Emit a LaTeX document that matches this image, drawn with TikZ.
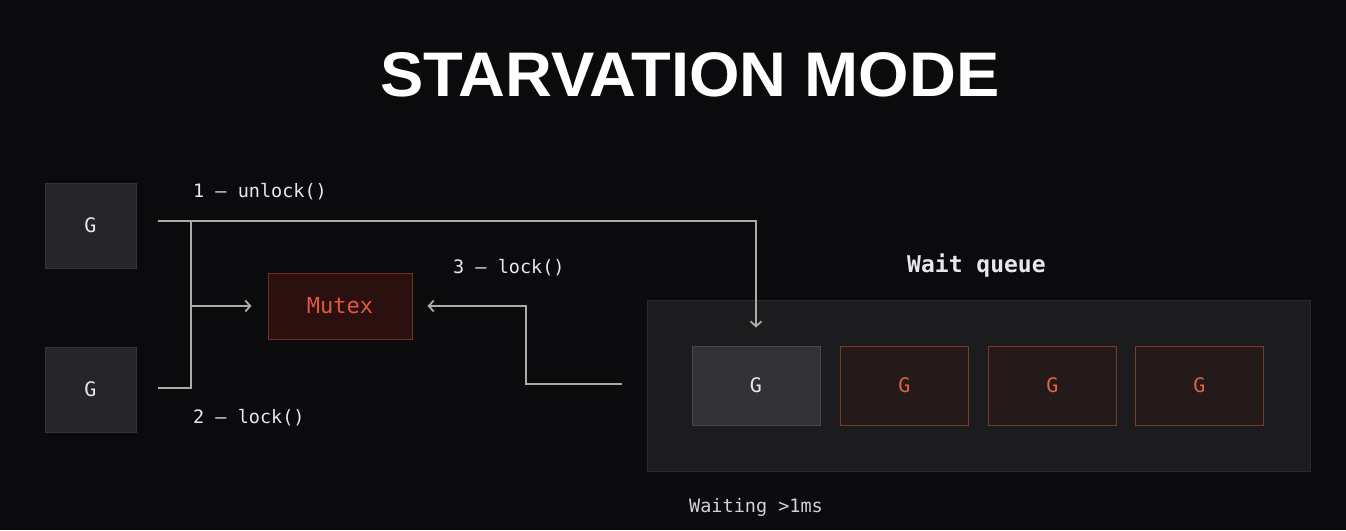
\documentclass[tikz,border=0pt]{standalone}
\usepackage{fontspec}
\setmainfont{Liberation Sans}
\newfontfamily\monof{DejaVu Sans Mono}
\usetikzlibrary{arrows.meta}
\definecolor{bg}{HTML}{0B0B0D}
\definecolor{gfill}{HTML}{262628}
\definecolor{gline}{HTML}{343436}
\definecolor{mfill}{HTML}{2A100E}
\definecolor{mline}{HTML}{7A2C22}
\definecolor{mtext}{HTML}{E2573F}
\definecolor{qfill}{HTML}{1C1C1E}
\definecolor{qline}{HTML}{2A2A2C}
\definecolor{q1fill}{HTML}{333336}
\definecolor{q1line}{HTML}{48484B}
\definecolor{rfill}{HTML}{241A19}
\definecolor{rline}{HTML}{7A3A2A}
\definecolor{otext}{HTML}{E0633F}
\definecolor{wire}{HTML}{ABABAB}
\definecolor{lbl}{HTML}{E8E8EA}
\definecolor{waitc}{HTML}{CDD2DE}
\begin{document}
\begin{tikzpicture}[x=1pt,y=-1pt,
  gbox/.style={draw=gline,fill=gfill,line width=1pt,minimum width=91pt,minimum height=85pt,inner sep=0pt,text=lbl,font=\monof\fontsize{20}{24}\selectfont},
  mbox/.style={draw=mline,fill=mfill,line width=1pt,minimum width=144pt,minimum height=66pt,inner sep=0pt,text=mtext,font=\monof\fontsize{22}{26}\selectfont},
  qbox/.style={draw=qline,fill=qfill,line width=1pt,minimum width=663pt,minimum height=171pt,inner sep=0pt},
  qwhite/.style={draw=q1line,fill=q1fill,line width=1pt,minimum width=128pt,minimum height=79pt,inner sep=0pt,text=lbl,font=\monof\fontsize{20}{24}\selectfont},
  qred/.style={draw=rline,fill=rfill,line width=1pt,minimum width=128pt,minimum height=79pt,inner sep=0pt,text=otext,font=\monof\fontsize{20}{24}\selectfont},
  conn/.style={draw=wire,line width=1.8pt},
  tip/.style={-{Straight Barb[length=5pt,width=11pt,line width=1.8pt]}},
  lab/.style={anchor=west,inner sep=0pt,text=lbl,font=\monof\fontsize{18.5}{22}\selectfont}
]
\fill[bg] (0,0) rectangle (1346,530);
\useasboundingbox (0,0) rectangle (1346,530);

\node[text=white,font=\fontsize{63}{70}\selectfont\bfseries,xscale=1.03] (title) at (690,75) {STARVATION MODE};

\node[gbox] (G1) at (90.5,225.5) {G};
\node[gbox] (G2) at (90.5,389.5) {G};
\node[mbox] (M) at (340,306) {Mutex};

\node[qbox] (Q) at (978.5,385.5) {};
\node[qwhite] (Q1) at (756,385.5) {G};
\node[qred] (Q2) at (904.5,385.5) {G};
\node[qred] (Q3) at (1052.5,385.5) {G};
\node[qred] (Q4) at (1199.5,385.5) {G};

\node[lab] (l1) at (193,192) {1 – unlock()};
\node[lab] (l2) at (193,418) {2 – lock()};
\node[lab] (l3) at (453,268) {3 – lock()};
\node[anchor=west,inner sep=0pt,text=lbl,font=\monof\bfseries\fontsize{23}{27}\selectfont] (wq) at (907,266) {Wait queue};
\node[anchor=west,inner sep=0pt,text=waitc,font=\monof\fontsize{18.5}{22}\selectfont] (wt) at (689,507) {Waiting >1ms};

\coordinate (s1) at (158,221);
\coordinate (s2) at (158,388);
\coordinate (b1) at (191,221);
\coordinate (b2) at (191,388);
\coordinate (bm) at (191,306);
\coordinate (r) at (622,384);
\coordinate (rc) at (526,384);

\draw[conn,tip,shorten >=18pt] (s1) -| (Q1.north);
\draw[conn] (b1) -- (b2) -- (s2);
\draw[conn,tip,shorten >=16pt] (bm) -- (M.west);
\draw[conn,tip,shorten >=15pt] (r) -- (rc) |- (M.east);
\end{tikzpicture}
\end{document}
